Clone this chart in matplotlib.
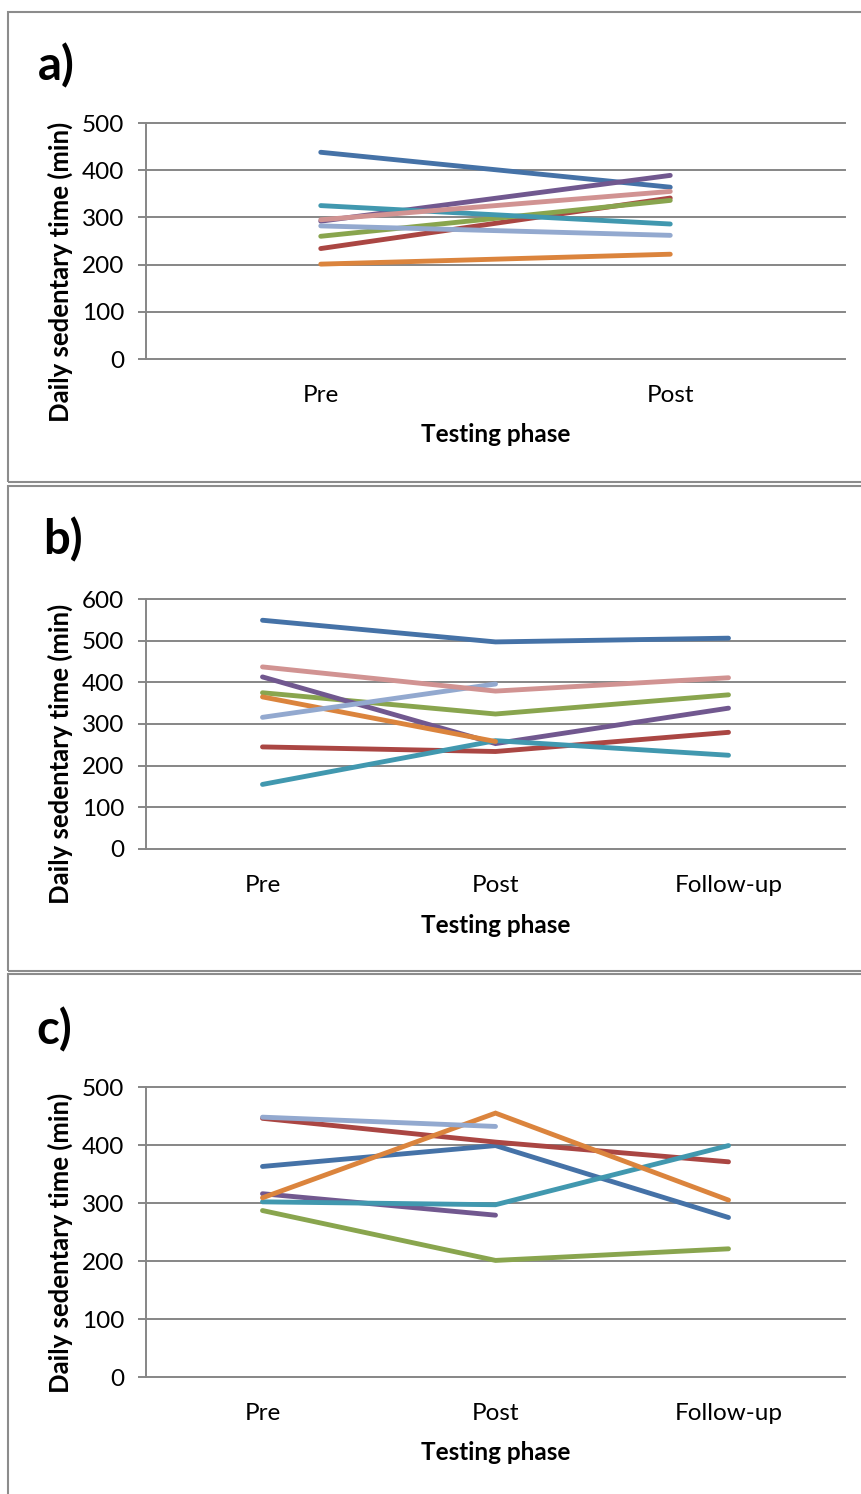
import matplotlib
matplotlib.use('Agg')

import matplotlib.pyplot as plt
from matplotlib.patches import Rectangle

plt.rcParams['font.family'] = ['Lato', 'DejaVu Sans']

# colours of the series (Excel 2007 palette)
colors = {
    "s1": "#4572A7", "s2": "#AA4643", "s3": "#89A54E", "s4": "#71588F",
    "s5": "#4198AF", "s6": "#DB843D", "s7": "#93A9CF", "s8": "#D19392",
}

# panel a: Pre, Post
phases_a = ["Pre", "Post"]
a_s1 = [438, 364]
a_s2 = [234, 341]
a_s3 = [260, 336]
a_s4 = [292, 389]
a_s5 = [325, 286]
a_s6 = [201, 222]
a_s7 = [282, 262]
a_s8 = [295, 355]

# panel b: Pre, Post, Follow-up (None = missing)
phases_b = ["Pre", "Post", "Follow-up"]
b_s1 = [549, 497, 506]
b_s2 = [245, 234, 280]
b_s3 = [375, 324, 370]
b_s4 = [413, 253, 338]
b_s5 = [155, 260, 225]
b_s6 = [365, 258, None]
b_s7 = [316, 396, None]
b_s8 = [437, 379, 411]

# panel c
phases_c = ["Pre", "Post", "Follow-up"]
c_s1 = [363, 399, 275]
c_s2 = [446, 405, 371]
c_s3 = [287, 201, 221]
c_s4 = [316, 279, None]
c_s5 = [302, 297, 399]
c_s6 = [309, 455, 305]
c_s7 = [448, 432, None]

W, H = 862, 1494
fig = plt.figure(figsize=(W / 100, H / 100), dpi=100)
grid_col = "#868686"
fs = 17.5


def rect(left, top, right, bottom):
    return [left / W, 1 - bottom / H, (right - left) / W, (bottom - top) / H]


def fy(y):
    return 1 - y / H


def panel(box, phases, series, ymax, letter, frame, ylab_y, xlab_y, letter_xy):
    fig.patches.append(Rectangle((8 / W, fy(frame[1])), 1.0, (frame[1] - frame[0]) / H,
                                 transform=fig.transFigure, fill=False,
                                 edgecolor="#8c8c8c", lw=1.5, clip_on=False))
    ax = fig.add_axes(rect(*box))
    x = list(range(len(phases)))
    for key, vals in series:
        xs = [xi for xi, v in zip(x, vals) if v is not None]
        vs = [v for v in vals if v is not None]
        ax.plot(xs, vs, color=colors[key], lw=3.5, solid_capstyle="round",
                solid_joinstyle="miter")
    ax.set_xlim(-0.5, len(phases) - 0.5)
    ax.set_ylim(0, ymax)
    ticks = list(range(0, ymax + 1, 100))
    ax.set_yticks(ticks)
    for t in ticks:
        ax.axhline(t, color=grid_col, lw=1.4, zorder=0, clip_on=False)
    ax.set_xticks(x)
    ax.set_xticklabels(phases)
    for s in ["top", "right", "bottom"]:
        ax.spines[s].set_visible(False)
    ax.spines["left"].set_color(grid_col)
    ax.spines["left"].set_linewidth(1.4)
    ax.tick_params(axis="y", length=5.5, width=1.4, color=grid_col, pad=10, labelsize=fs)
    ax.tick_params(axis="x", length=0, pad=19, labelsize=fs)
    fig.text(60 / W, fy(ylab_y), "Daily sedentary time (min)", rotation=90,
             ha="center", va="center", fontsize=18.5, fontweight="bold")
    fig.text((box[0] + box[2]) / 2 / W, fy(xlab_y), "Testing phase",
             ha="center", va="center", fontsize=fs, fontweight="bold")
    fig.text(letter_xy[0] / W, fy(letter_xy[1]), letter, ha="left", va="center",
             fontsize=34, fontweight="bold")
    return ax


panel((146, 123, 845, 359), phases_a,
      [("s1", a_s1), ("s2", a_s2), ("s3", a_s3), ("s4", a_s4), ("s5", a_s5),
       ("s6", a_s6), ("s7", a_s7), ("s8", a_s8)],
      500, "a)", (12, 482), 272, 434, (38, 66))

panel((146, 599, 845, 849), phases_b,
      [("s1", b_s1), ("s2", b_s2), ("s3", b_s3), ("s4", b_s4), ("s5", b_s5),
       ("s6", b_s6), ("s7", b_s7), ("s8", b_s8)],
      600, "b)", (486, 971), 754, 925, (43, 540))

panel((146, 1087, 845, 1377), phases_c,
      [("s1", c_s1), ("s2", c_s2), ("s3", c_s3), ("s4", c_s4), ("s5", c_s5),
       ("s6", c_s6), ("s7", c_s7)],
      500, "c)", (974, 1520), 1243, 1453, (36, 1030))

plt.savefig("out.png", dpi=100)
